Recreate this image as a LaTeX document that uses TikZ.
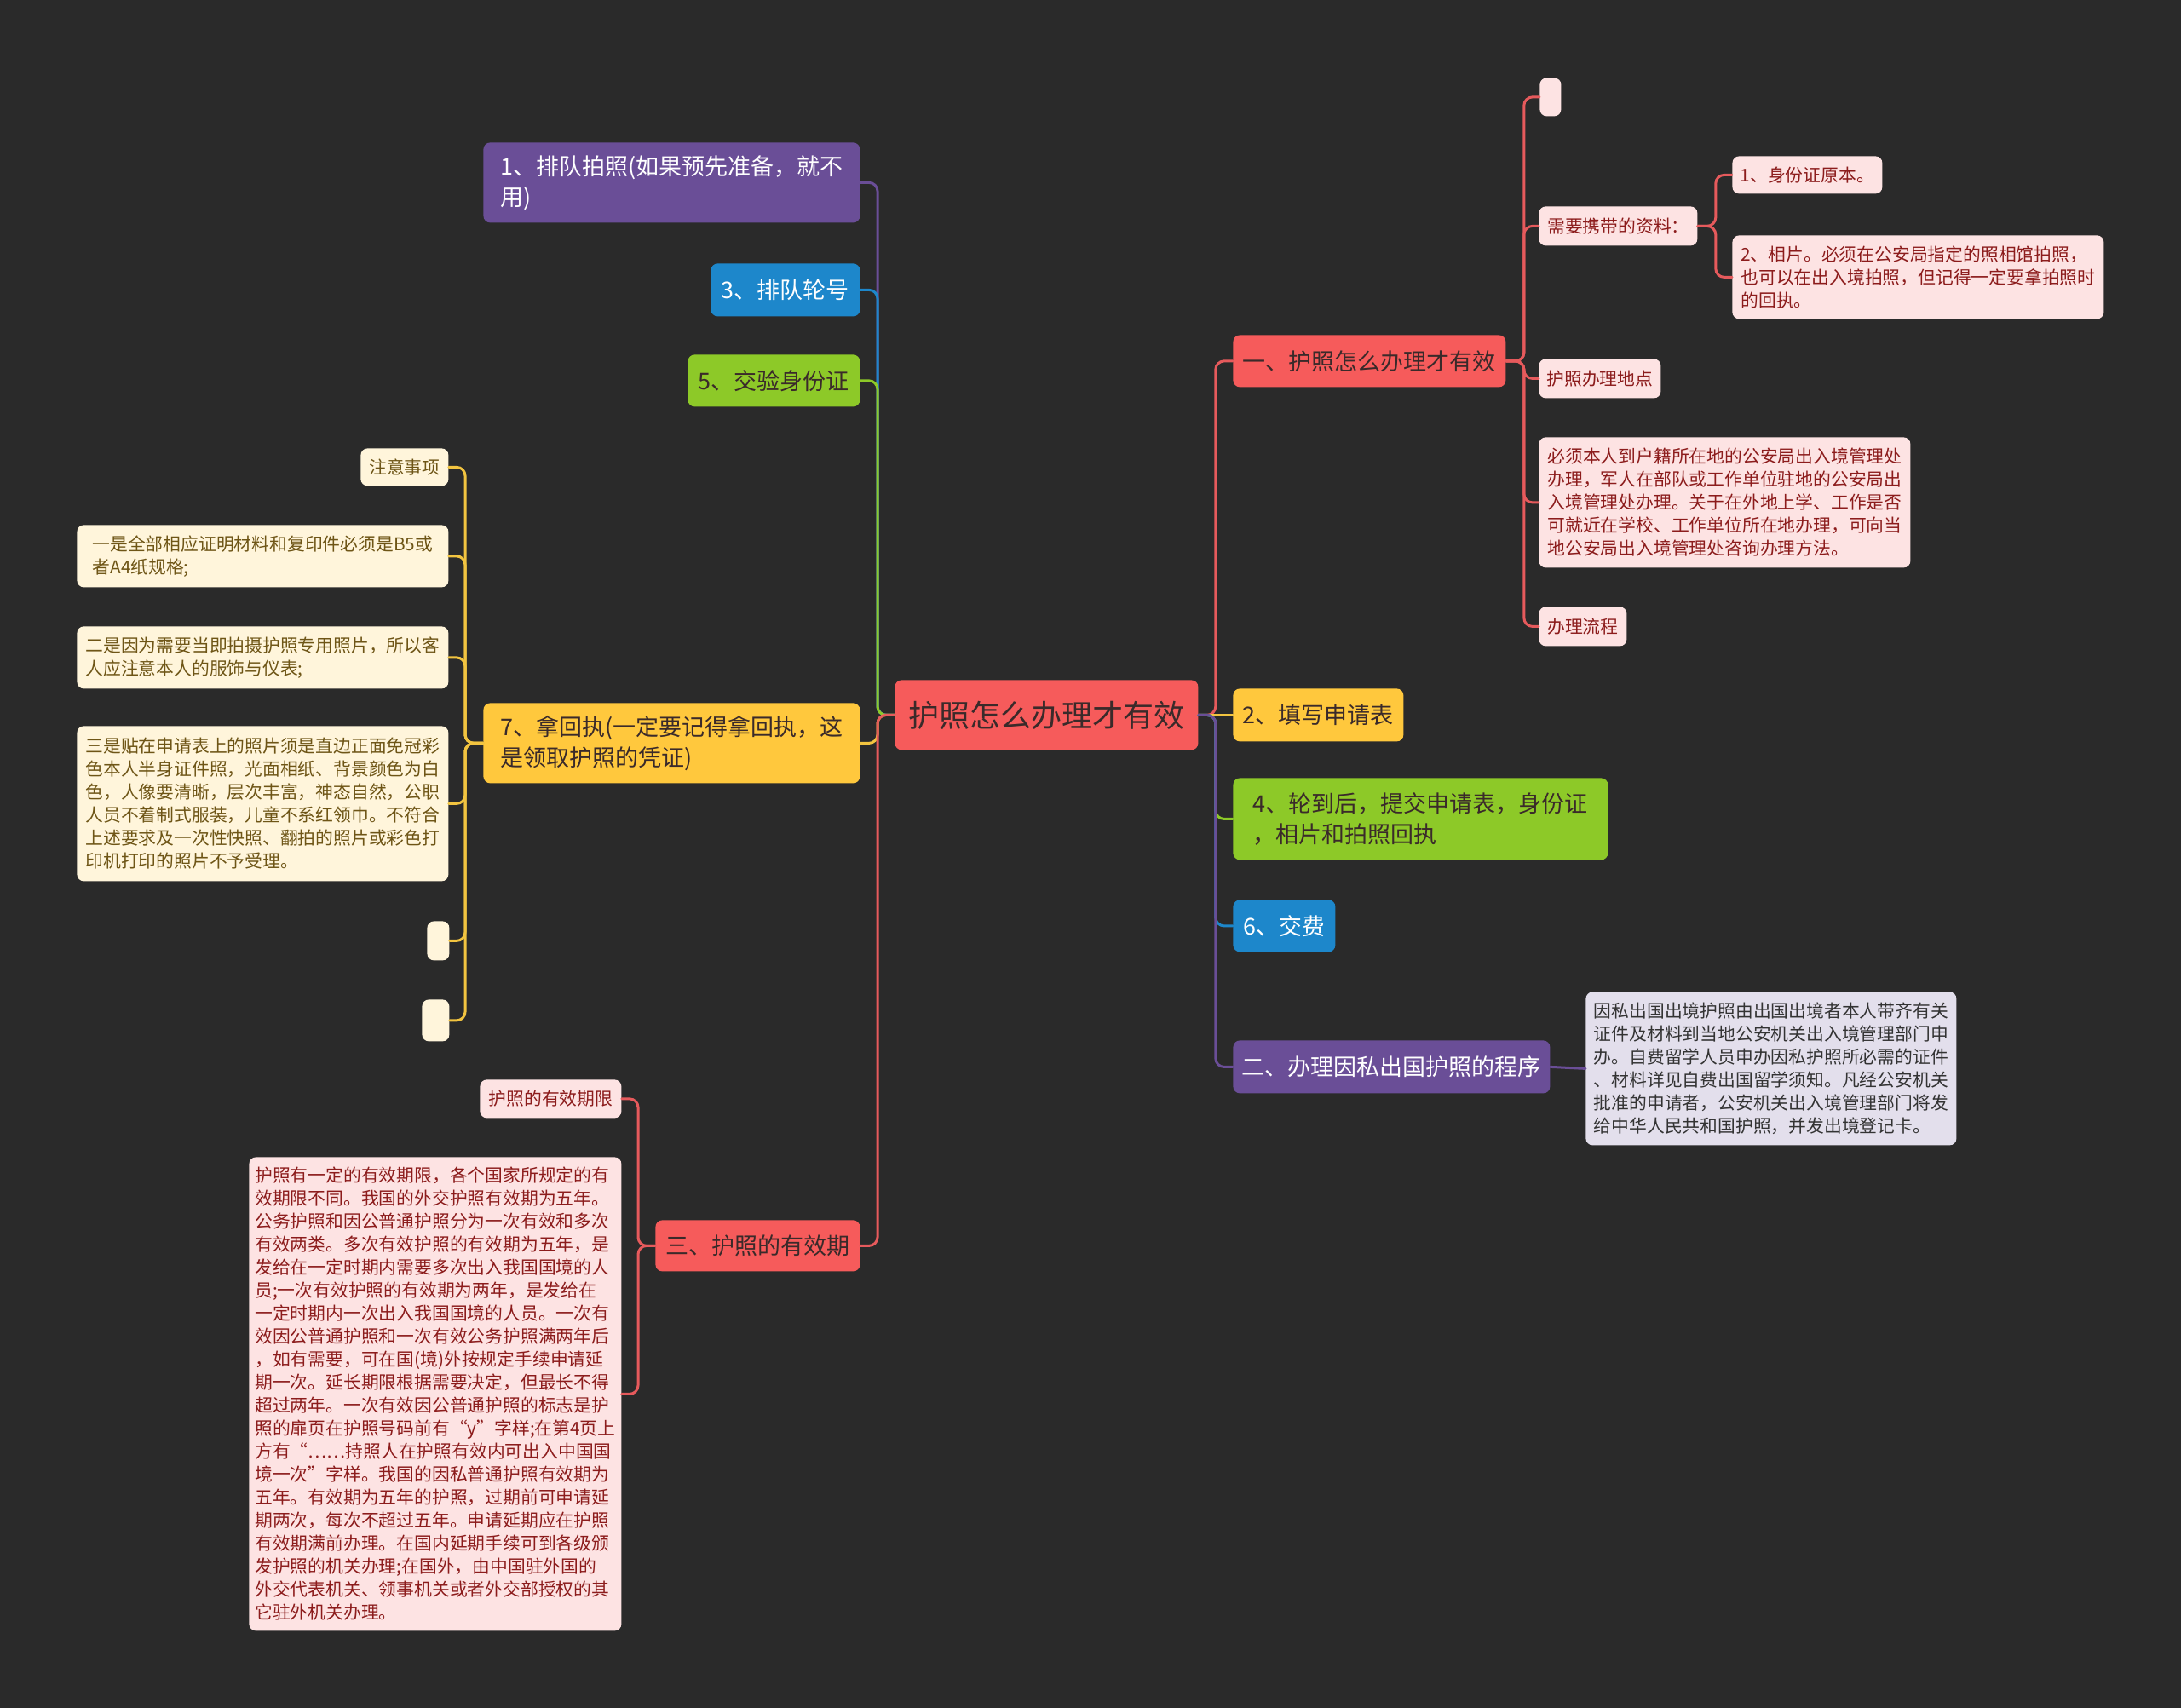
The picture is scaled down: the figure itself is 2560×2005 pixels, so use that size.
\documentclass[tikz,border=0pt]{standalone}
\usepackage{fontspec}
\setmainfont{Noto Sans CJK SC}
\definecolor{bgdark}{HTML}{2A2A2A}
\definecolor{cred}{HTML}{F65B5B}
\definecolor{cyellow}{HTML}{FFC83D}
\definecolor{cgreen}{HTML}{8DC928}
\definecolor{cblue}{HTML}{1D87CB}
\definecolor{cpurple}{HTML}{6A4E97}
\definecolor{lred}{HTML}{E65A5C}
\definecolor{lyellow}{HTML}{F2C440}
\definecolor{lpink}{HTML}{FDE3E3}
\definecolor{lcream}{HTML}{FFF5DB}
\definecolor{llilac}{HTML}{E3DFEC}
\definecolor{tred}{HTML}{8C1C1C}
\definecolor{tolive}{HTML}{6E5516}
\definecolor{tgrey}{HTML}{333333}
\definecolor{tdark}{HTML}{3A2A2A}
\tikzset{
  box/.style={rounded corners=4pt, inner sep=0pt, align=left, anchor=north west},
  maintopic/.style={box, fill=cred, text=tdark, font=\fontsize{18pt}{22pt}\selectfont},
  topic/.style={box, fill=#1, font=\fontsize{13.5pt}{18pt}\selectfont},
  leaf/.style={box, fill=#1, font=\fontsize{10.4pt}{13.5pt}\selectfont},
  link/.style={line width=1.5pt, rounded corners=5pt}
}
\begin{document}
\begin{tikzpicture}[x=0.5pt,y=-0.5pt,line cap=round,line join=round]
\useasboundingbox[fill=bgdark] (0,0) rectangle (2560,2005);
% centre
\node[maintopic, minimum width=178pt, minimum height=41pt] (c) at (1050,798) {护照怎么办理才有效};
% right side
\node[topic=cred, text=tdark, minimum width=160pt, minimum height=30.5pt] (r1) at (1447,393) {一、护照怎么办理才有效};
\node[topic=cyellow, text=tdark, minimum width=100pt, minimum height=31pt] (r2) at (1447,808) {2、填写申请表};
\node[topic=cgreen, text=tdark, minimum width=220pt, minimum height=48pt] (r4) at (1447,913) {4、轮到后，提交申请表，身份证\\，相片和拍照回执};
\node[topic=cblue, text=white, minimum width=60pt, minimum height=30.5pt] (r6) at (1447,1056) {6、交费};
\node[topic=cpurple, text=white, minimum width=186pt, minimum height=31pt] (r8) at (1447,1221) {二、办理因私出国护照的程序};
\node[leaf=llilac, text=tgrey, minimum width=217.5pt, minimum height=90pt] (det) at (1861,1164) {因私出国出境护照由出国出境者本人带齐有关\\证件及材料到当地公安机关出入境管理部门申\\办。自费留学人员申办因私护照所必需的证件\\、材料详见自费出国留学须知。凡经公安机关\\批准的申请者，公安机关出入境管理部门将发\\给中华人民共和国护照，并发出境登记卡。};
% leaves of r1
\node[leaf=lpink, minimum width=12.5pt, minimum height=22.5pt] (e1) at (1807,91) {};
\node[leaf=lpink, text=tred, minimum width=93pt, minimum height=23pt] (p1) at (1806,242) {需要携带的资料：};
\node[leaf=lpink, text=tred, minimum width=88pt, minimum height=22pt] (p11) at (2033,183) {1、身份证原本。};
\node[leaf=lpink, text=tred, minimum width=218pt, minimum height=49pt] (p12) at (2033,276) {2、相片。必须在公安局指定的照相馆拍照，\\也可以在出入境拍照，但记得一定要拿拍照时\\的回执。};
\node[leaf=lpink, text=tred, minimum width=71.5pt, minimum height=23pt] (p2) at (1806,421) {护照办理地点};
\node[leaf=lpink, text=tred, minimum width=218pt, minimum height=76.5pt] (p3) at (1806,513) {必须本人到户籍所在地的公安局出入境管理处\\办理，军人在部队或工作单位驻地的公安局出\\入境管理处办理。关于在外地上学、工作是否\\可就近在学校、工作单位所在地办理，可向当\\地公安局出入境管理处咨询办理方法。};
\node[leaf=lpink, text=tred, minimum width=51.5pt, minimum height=23pt] (p4) at (1806,712) {办理流程};
% left side
\node[topic=cpurple, text=white, minimum width=221pt, minimum height=47pt] (l1) at (567,167) {1、排队拍照(如果预先准备，就不\\用)};
\node[topic=cblue, text=white, minimum width=87.5pt, minimum height=31pt] (l3) at (834,309) {3、排队轮号};
\node[topic=cgreen, text=tdark, minimum width=101pt, minimum height=30.5pt] (l5) at (807,416) {5、交验身份证};
\node[topic=cyellow, text=tdark, minimum width=221pt, minimum height=47pt] (l7) at (567,825) {7、拿回执(一定要记得拿回执，这\\是领取护照的凭证)};
\node[topic=cred, text=tdark, minimum width=120pt, minimum height=30pt] (l9) at (769,1432) {三、护照的有效期};
% leaves of l7
\node[leaf=lcream, text=tolive, minimum width=51.5pt, minimum height=22pt] (y0) at (423,526) {注意事项};
\node[leaf=lcream, text=tolive, minimum width=218pt, minimum height=36.5pt] (y1) at (90,616) {一是全部相应证明材料和复印件必须是B5或\\者A4纸规格;};
\node[leaf=lcream, text=tolive, minimum width=218pt, minimum height=36.5pt] (y2) at (90,735) {二是因为需要当即拍摄护照专用照片，所以客\\人应注意本人的服饰与仪表;};
\node[leaf=lcream, text=tolive, minimum width=218pt, minimum height=91pt] (y3) at (90,852) {三是贴在申请表上的照片须是直边正面免冠彩\\色本人半身证件照，光面相纸、背景颜色为白\\色，人像要清晰，层次丰富，神态自然，公职\\人员不着制式服装，儿童不系红领巾。不符合\\上述要求及一次性快照、翻拍的照片或彩色打\\印机打印的照片不予受理。};
\node[leaf=lcream, minimum width=13pt, minimum height=23pt] (y4) at (501,1081) {};
\node[leaf=lcream, minimum width=16pt, minimum height=24.5pt] (y5) at (495,1173) {};
% leaves of l9
\node[leaf=lpink, text=tred, minimum width=83pt, minimum height=22.5pt] (t1) at (563,1267) {护照的有效期限};
\node[leaf=lpink, text=tred, minimum width=218.5pt, minimum height=278pt] (t2) at (292,1358) {护照有一定的有效期限，各个国家所规定的有\\效期限不同。我国的外交护照有效期为五年。\\公务护照和因公普通护照分为一次有效和多次\\有效两类。多次有效护照的有效期为五年，是\\发给在一定时期内需要多次出入我国国境的人\\员;一次有效护照的有效期为两年，是发给在\\一定时期内一次出入我国国境的人员。一次有\\效因公普通护照和一次有效公务护照满两年后\\，如有需要，可在国(境)外按规定手续申请延\\期一次。延长期限根据需要决定，但最长不得\\超过两年。一次有效因公普通护照的标志是护\\照的扉页在护照号码前有“y"字样;在第4页上\\方有“……持照人在护照有效内可出入中国国\\境一次”字样。我国的因私普通护照有效期为\\五年。有效期为五年的护照，过期前可申请延\\期两次，每次不超过五年。申请延期应在护照\\有效期满前办理。在国内延期手续可到各级颁\\发护照的机关办理;在国外，由中国驻外国的\\外交代表机关、领事机关或者外交部授权的其\\它驻外机关办理。};
% links, right
\draw[link, draw=lred] (c.east) -- ++(20,0) |- (r1.west);
\draw[link, draw=lyellow] (c.east) -- (r2.west);
\draw[link, draw=cgreen] (c.east) -- ++(20,0) |- (r4.west);
\draw[link, draw=cblue] (c.east) -- ++(20,0) |- (r6.west);
\draw[link, draw=cpurple] (c.east) -- ++(20,0) |- (r8.west);
\draw[link, draw=cpurple] (r8.east) -- (det.west);
\foreach \n in {e1,p1,p2,p3,p4}
  \draw[link, draw=lred] (r1.east) -- ++(21,0) |- (\n.west);
\foreach \n in {p11,p12}
  \draw[link, draw=lred] (p1.east) -- ++(21,0) |- (\n.west);
% links, left
\draw[link, draw=cpurple] (c.west) -- ++(-20,0) |- (l1.east);
\draw[link, draw=cblue] (c.west) -- ++(-20,0) |- (l3.east);
\draw[link, draw=cgreen] (c.west) -- ++(-20,0) |- (l5.east);
\draw[link, draw=lyellow] (c.west) -- ++(-20,0) |- (l7.east);
\draw[link, draw=lred] (c.west) -- ++(-20,0) |- (l9.east);
\foreach \n in {y0,y1,y2,y3,y4,y5}
  \draw[link, draw=lyellow] (l7.west) -- ++(-21,0) |- (\n.east);
\foreach \n in {t1,t2}
  \draw[link, draw=lred] (l9.west) -- ++(-20,0) |- (\n.east);
\end{tikzpicture}
\end{document}
